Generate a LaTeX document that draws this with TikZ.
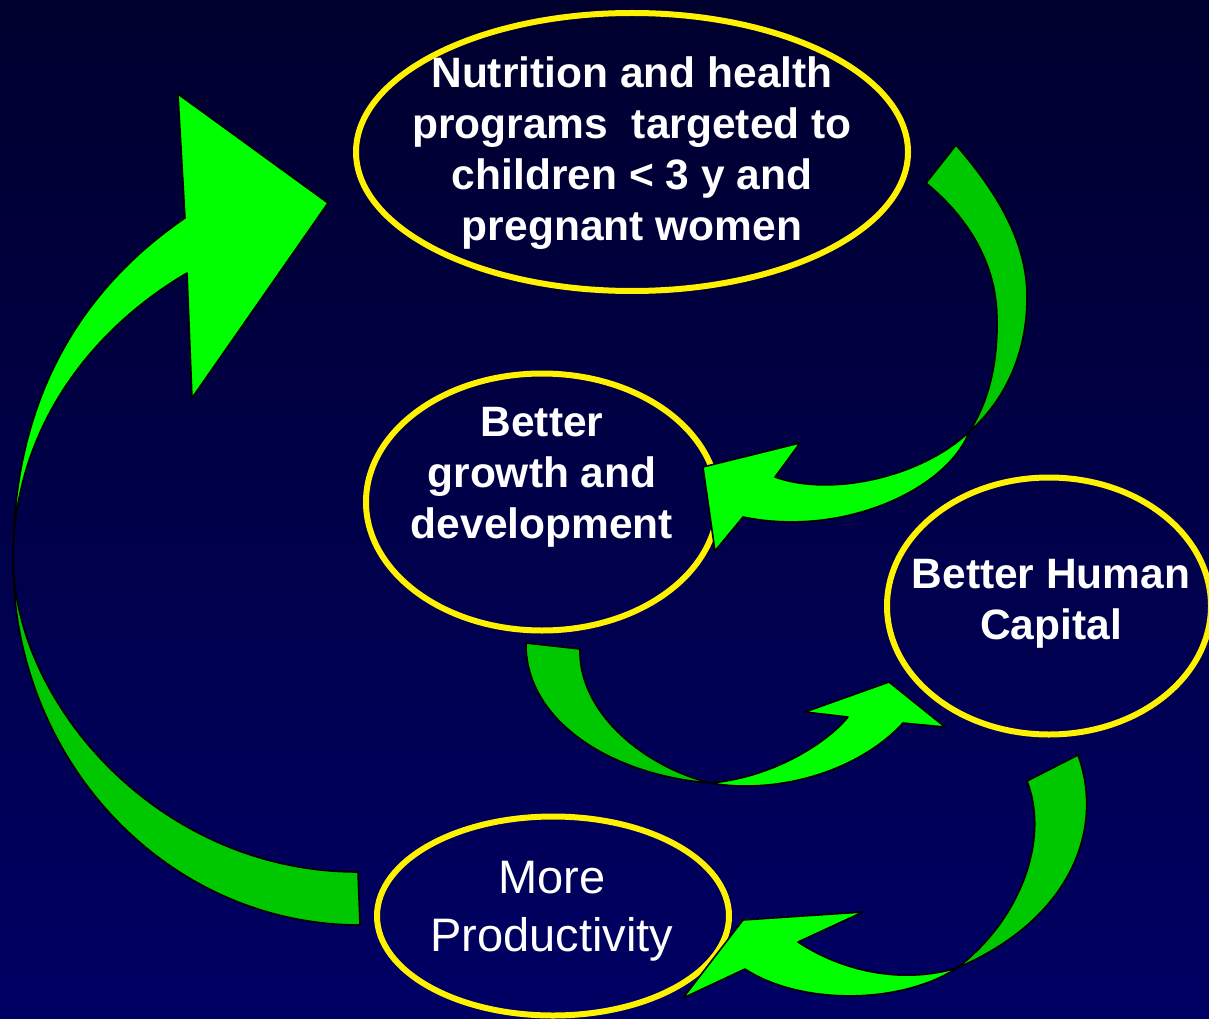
\documentclass[tikz,border=0pt]{standalone}
\usepackage{fontspec}
\setmainfont{Liberation Sans}
\usetikzlibrary{shapes.geometric}
\definecolor{bgtop}{RGB}{0,0,46}
\definecolor{bgbot}{RGB}{0,0,100}
\definecolor{darkg}{RGB}{0,200,0}
\definecolor{brightg}{RGB}{0,255,0}
\begin{document}
\begin{tikzpicture}[x=1pt,y=-1pt,
  oval/.style={ellipse,draw=yellow,line width=6pt,inner sep=0pt},
  lbl/.style={text=white,font=\fontsize{42.5}{51}\selectfont\bfseries,align=center,inner sep=0pt},
  lblreg/.style={text=white,font=\fontsize{47}{58}\selectfont,align=center,inner sep=0pt},
  backpart/.style={fill=darkg,draw=black,line width=1.6pt,line join=round},
  frontpart/.style={fill=brightg,draw=black,line width=1.6pt,line join=round},
]
\shade[top color=bgtop,bottom color=bgbot] (0,0) rectangle (1209,1019);
\useasboundingbox (0,0) rectangle (1209,1019);

% ellipses
\node[oval,minimum width=552,minimum height=278] (nutr) at (632,152) {};
\node[oval,minimum width=352,minimum height=257] (growth) at (542,502) {};
\node[oval,minimum width=324,minimum height=257] (human) at (1049,606) {};
\node[oval,minimum width=352,minimum height=199] (prod) at (553,916) {};

% labels
\node[lbl] (nutrtxt) at (632,153) {Nutrition and health\\programs\ \ targeted to\\children < 3 y and\\pregnant women};
\node[lbl] (growthtxt) at (542,477) {Better\\growth and\\development};
\node[lbl] (humantxt) at (1051,604) {Better Human\\Capital};
\node[lblreg] (prodtxt) at (552,911) {More\\Productivity};

% arrow: nutrition -> growth
\filldraw[backpart] (926,183) -- (956,145)
  .. controls (995,190) and (1027,240) .. (1027,297)
  .. controls (1027,360) and (1000,405) .. (969,432)
  .. controls (990,400) and (998,360) .. (997,317)
  .. controls (996,260) and (965,215) .. (926,183) -- cycle;
\filldraw[frontpart] (969,432) .. controls (948,488) and (845,538) .. (743,517)
  -- (715,551) -- (703,467) -- (800,443) -- (775,477)
  .. controls (830,497) and (920,478) .. (969,432) -- cycle;

% arrow: growth -> human capital
\filldraw[backpart] (526,643) -- (580,649)
  .. controls (578,710) and (640,765) .. (710,783)
  .. controls (610,775) and (525,720) .. (526,643) -- cycle;
\filldraw[frontpart] (710,783) .. controls (770,778) and (825,745) .. (848,717)
  -- (805,712) -- (889,682) -- (945,727) -- (903,723)
  .. controls (860,770) and (780,795) .. (710,783) -- cycle;

% arrow: human capital -> productivity
\filldraw[backpart] (1027,781) -- (1078,755)
  .. controls (1105,830) and (1070,920) .. (957,968)
  .. controls (1020,920) and (1050,840) .. (1027,781) -- cycle;
\filldraw[frontpart] (957,968) .. controls (900,985) and (840,970) .. (798,942)
  -- (863,912) -- (743,920) -- (683,998) -- (745,969)
  .. controls (800,1005) and (900,1005) .. (957,968) -- cycle;

% arrow: productivity -> nutrition
\filldraw[backpart] (358,872) -- (360,925)
  .. controls (168,925) and (13,762) .. (13,560)
  .. controls (15,705) and (160,872) .. (358,872) -- cycle;
\filldraw[frontpart] (13,560) .. controls (13,400) and (80,290) .. (185,218)
  -- (178,94) -- (328,203) -- (192,398) -- (187,273)
  .. controls (90,330) and (13,430) .. (13,560) -- cycle;
\end{tikzpicture}
\end{document}
